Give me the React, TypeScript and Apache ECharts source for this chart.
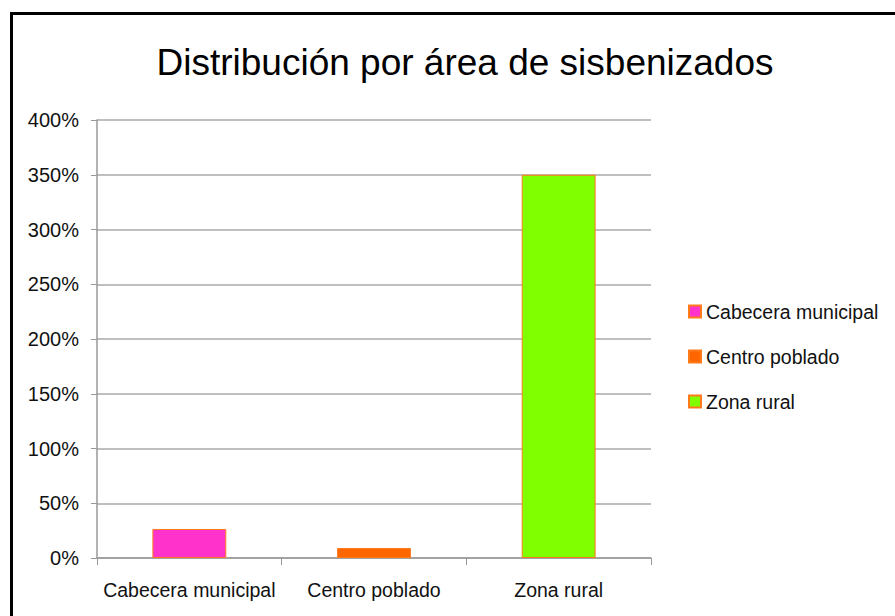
import React, { useEffect, useRef } from "react";
import * as echarts from "echarts";

const categories = ["Cabecera municipal", "Centro poblado", "Zona rural"];
const seriesNames = ["Cabecera municipal", "Centro poblado", "Zona rural"];
const cabeceraValues = [26.5, "-", "-"];
const centroValues = ["-", 9.1, "-"];
const ruralValues = ["-", "-", 350];
const seriesColors = ["#FF33CC", "#FF6600", "#7FFF00"];
const titleText = "Distribución por área de sisbenizados";

const FONT = "'Liberation Sans', Arial, sans-serif";

export default function App() {
  const ref = useRef<HTMLDivElement>(null);
  useEffect(() => {
    if (!ref.current) return;
    const chart = echarts.init(ref.current, undefined, { renderer: "svg" });
    const values = [cabeceraValues, centroValues, ruralValues];
    chart.setOption({
      animation: false,
      backgroundColor: "#ffffff",
      title: {
        text: titleText,
        left: 460,
        textAlign: "center",
        top: 39,
        textStyle: { fontFamily: FONT, fontSize: 37, fontWeight: "normal", color: "#000" },
      },
      graphic: [
        {
          type: "rect",
          shape: { x: 11.5, y: 13.5, width: 900, height: 620 },
          style: { fill: "none", stroke: "#000", lineWidth: 3 },
          z: 100,
        },
      ],
      legend: {
        orient: "vertical",
        left: 683,
        top: 296,
        itemWidth: 12,
        itemHeight: 12,
        itemGap: 24,
        icon: "rect",
        data: seriesNames,
        textStyle: { fontFamily: FONT, fontSize: 19.5, color: "#111", lineHeight: 21 },
      },
      grid: { left: 97, right: 244, top: 120, bottom: 58 },
      xAxis: {
        type: "category",
        data: categories,
        axisLine: { lineStyle: { color: "#999", width: 1.5 } },
        axisTick: { show: true, length: 7, lineStyle: { color: "#999" } },
        axisLabel: { fontFamily: FONT, fontSize: 19.5, color: "#111", margin: 22, interval: 0 },
      },
      yAxis: {
        type: "value",
        min: 0,
        max: 400,
        interval: 50,
        axisLine: { show: true, lineStyle: { color: "#999", width: 1.5 } },
        axisTick: { show: true, length: 6, lineStyle: { color: "#999" } },
        axisLabel: {
          formatter: "{value}%",
          fontFamily: FONT,
          fontSize: 20,
          color: "#111",
          margin: 18,
        },
        splitLine: { lineStyle: { color: "#aaa", width: 1.5 } },
      },
      series: seriesNames.map((name, i) => ({
        name,
        type: "bar",
        stack: "all",
        barWidth: "40%",
        data: values[i],
        itemStyle: { color: seriesColors[i], borderColor: "#FF7A1A", borderWidth: 1 },
      })),
    });
    return () => chart.dispose();
  }, []);
  return (
    <div
      ref={ref}
      style={{ position: "fixed", left: 0, top: 0, width: 895, height: 616 }}
    />
  );
}
